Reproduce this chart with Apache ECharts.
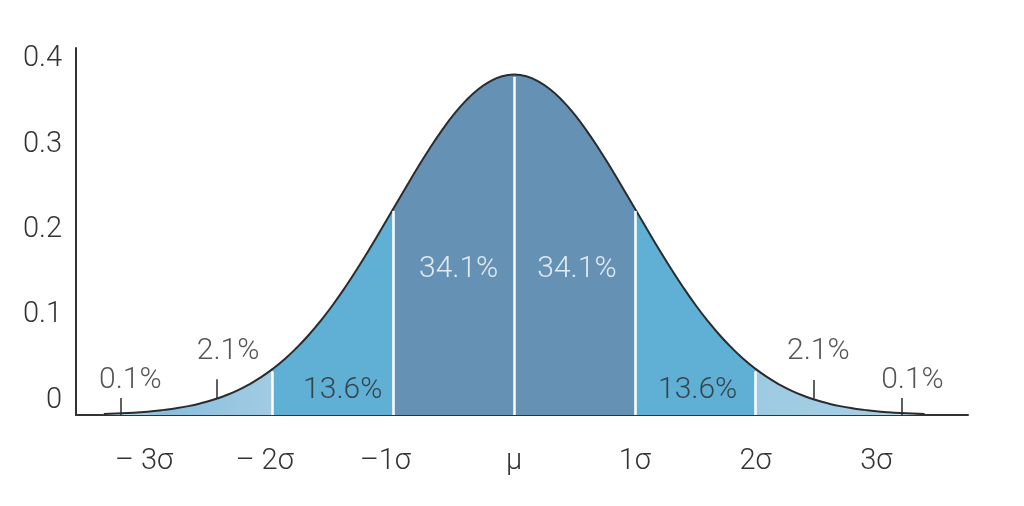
<!DOCTYPE html>
<html>
<head>
<meta charset="utf-8">
<title>Normal distribution</title>
<script src="https://cdn.jsdelivr.net/npm/echarts@6.0.0/dist/echarts.min.js"></script>
<style>
  html, body { margin: 0; padding: 0; background: #fff; }
  #main { width: 1024px; height: 506px; }
</style>
</head>
<body>
<div id="main"></div>
<script>
// curve (x in sigma units, y = density)
var xs = [-3.4, -3.3, -3.2, -3.1, -3.0, -2.9, -2.8, -2.7, -2.6, -2.5, -2.4, -2.3, -2.2, -2.1, -2.0,
          -1.9, -1.8, -1.7, -1.6, -1.5, -1.4, -1.3, -1.2, -1.1, -1.0, -0.9, -0.8, -0.7, -0.6, -0.5, -0.4, -0.3, -0.2, -0.1,
          0, 0.1, 0.2, 0.3, 0.4, 0.5, 0.6, 0.7, 0.8, 0.9, 1.0, 1.1, 1.2, 1.3, 1.4, 1.5, 1.6, 1.7, 1.8, 1.9,
          2.0, 2.1, 2.2, 2.3, 2.4, 2.5, 2.6, 2.7, 2.8, 2.9, 3.0, 3.1, 3.2, 3.3, 3.4];
var density = [0.0012, 0.0017, 0.0024, 0.0033, 0.0044, 0.0060, 0.0079, 0.0104, 0.0136, 0.0175, 0.0224, 0.0283, 0.0355, 0.0440, 0.0540,
               0.0656, 0.0790, 0.0940, 0.1109, 0.1295, 0.1497, 0.1714, 0.1942, 0.2179, 0.2420, 0.2661, 0.2897, 0.3123, 0.3332, 0.3521, 0.3683, 0.3814, 0.3910, 0.3970,
               0.3989, 0.3970, 0.3910, 0.3814, 0.3683, 0.3521, 0.3332, 0.3123, 0.2897, 0.2661, 0.2420, 0.2179, 0.1942, 0.1714, 0.1497, 0.1295, 0.1109, 0.0940, 0.0790, 0.0656,
               0.0540, 0.0440, 0.0355, 0.0283, 0.0224, 0.0175, 0.0136, 0.0104, 0.0079, 0.0060, 0.0044, 0.0033, 0.0024, 0.0017, 0.0012];

// shaded bands
var bandEdges = [-3.4, -2, -1, 0, 1, 2, 3.4];
var dividers = [-2, -1, 0, 1, 2];

// axis labels
var xTickValues = [-3, -2, -1, 0, 1, 2, 3];
var xTickLabels = ['– 3σ', '– 2σ', '–1σ', 'μ', '1σ', '2σ', '3σ'];

// percentage annotations
var pctText = ['0.1%', '2.1%', '13.6%', '34.1%', '34.1%', '13.6%', '2.1%', '0.1%'];
var pctX = [-3.18, -2.37, -1.42, -0.46, 0.52, 1.52, 2.52, 3.30];
var pctY = [0.041, 0.074, 0.029, 0.170, 0.170, 0.029, 0.074, 0.041];

// little marker ticks for the tail labels: x, bottom, top
var markX = [-3.26, -2.46, 2.48, 3.21];
var markBottom = [0, 0.019, 0.019, 0];
var markTop = [0.02, 0.042, 0.041, 0.02];

var FONT = 'Roboto, "Liberation Sans", sans-serif';
var tailLeft = new echarts.graphic.LinearGradient(0, 0, 1, 0, [
    {offset: 0, color: '#d6e9f4'}, {offset: 0.35, color: '#88bedd'}, {offset: 1, color: '#a2cbe3'}]);
var tailRight = new echarts.graphic.LinearGradient(0, 0, 1, 0, [
    {offset: 0, color: '#9dcae2'}, {offset: 0.7, color: '#a6cfe6'}, {offset: 1, color: '#d6e9f4'}]);
var bandColors = [tailLeft, '#60b0d5', '#6592b4', '#6592b4', '#60b0d5', tailRight];

function densityAt(x) {
    for (var i = 0; i < xs.length; i++) {
        if (Math.abs(xs[i] - x) < 1e-9) return density[i];
    }
    return 0;
}

var series = [];
for (var b = 0; b < bandEdges.length - 1; b++) {
    var pts = [];
    for (var i = 0; i < xs.length; i++) {
        if (xs[i] >= bandEdges[b] - 1e-9 && xs[i] <= bandEdges[b + 1] + 1e-9) {
            pts.push([xs[i], density[i]]);
        }
    }
    series.push({
        type: 'line',
        data: pts,
        smooth: 0.5,
        symbol: 'none',
        silent: true,
        lineStyle: {width: 0},
        areaStyle: {color: bandColors[b], opacity: 1},
        z: 2
    });
}

// white dividers
var dividerLines = [];
for (var d = 0; d < dividers.length; d++) {
    dividerLines.push([{coord: [dividers[d], 0]}, {coord: [dividers[d], densityAt(dividers[d]) - 0.003]}]);
}
var markerLines = [];
for (var m = 0; m < markX.length; m++) {
    markerLines.push([{coord: [markX[m], markBottom[m]]}, {coord: [markX[m], markTop[m]]}]);
}

series.push({
    type: 'line',
    data: xs.map(function (x, i) { return [x, density[i]]; }),
    smooth: 0.5,
    symbol: 'none',
    silent: true,
    lineStyle: {color: '#2b2b2b', width: 2},
    z: 4
});
series.push({
    type: 'line',
    data: [],
    silent: true,
    z: 3,
    markLine: {
        silent: true,
        symbol: 'none',
        label: {show: false},
        animation: false,
        lineStyle: {color: '#ffffff', width: 2.5, type: 'solid'},
        data: dividerLines
    }
});
series.push({
    type: 'line',
    data: [],
    silent: true,
    z: 5,
    markLine: {
        silent: true,
        symbol: 'none',
        label: {show: false},
        animation: false,
        lineStyle: {color: '#2b2b2b', width: 1.5, type: 'solid'},
        data: markerLines
    }
});
series.push({
    type: 'scatter',
    symbolSize: 0,
    silent: true,
    z: 6,
    data: pctText.map(function (t, i) {
        return {
            value: [pctX[i], pctY[i]],
            name: t,
            label: {color: t === '34.1%' ? '#ffffff' : '#2a2a2a'}
        };
    }),
    label: {
        show: true,
        position: 'inside',
        formatter: '{b}',
        fontFamily: FONT,
        fontWeight: 300,
        fontSize: 30
    }
});

var option = {
    animation: false,
    backgroundColor: '#ffffff',
    grid: {left: 76, right: 56, top: 48, bottom: 91},
    xAxis: {
        type: 'value',
        min: -3.63,
        max: 3.76,
        axisLine: {lineStyle: {color: '#333', width: 2}},
        axisTick: {show: false},
        splitLine: {show: false},
        axisLabel: {
            customValues: xTickValues,
            margin: 32,
            color: '#333',
            fontFamily: FONT,
            fontWeight: 300,
            fontSize: 29,
            formatter: function (v) {
                for (var i = 0; i < xTickValues.length; i++) {
                    if (Math.abs(xTickValues[i] - v) < 1e-6) {
                        var t = xTickLabels[i];
                        if (t.charAt(0) === '–') {
                            var dash = t.indexOf(' ') > 0 ? '– ' : '–';
                            return '{d|' + dash + '}' + t.slice(dash.length) + '{p|' + (dash.length > 1 ? '  ' : ' ') + '}';
                        }
                        return t;
                    }
                }
                return '';
            },
            rich: {
                d: {fontFamily: FONT, fontWeight: 300, fontSize: 29, color: '#333'},
                p: {fontFamily: FONT, fontSize: 29, color: 'rgba(0,0,0,0)', width: 16}
            }
        }
    },
    yAxis: {
        type: 'value',
        min: 0,
        max: 0.43,
        interval: 0.1,
        axisLine: {show: true, onZero: false, lineStyle: {color: '#333', width: 2}},
        axisTick: {show: false},
        splitLine: {show: false},
        axisLabel: {
            margin: 14,
            color: '#333',
            fontFamily: FONT,
            fontWeight: 300,
            fontSize: 29,
            verticalAlign: 'bottom',
            formatter: function (v) {
                if (v > 0.41) return '';
                return v === 0 ? '0' : v.toFixed(1);
            }
        }
    },
    series: series
};

var myChart = echarts.init(document.getElementById('main'));
myChart.setOption(option);
</script>
</body>
</html>
